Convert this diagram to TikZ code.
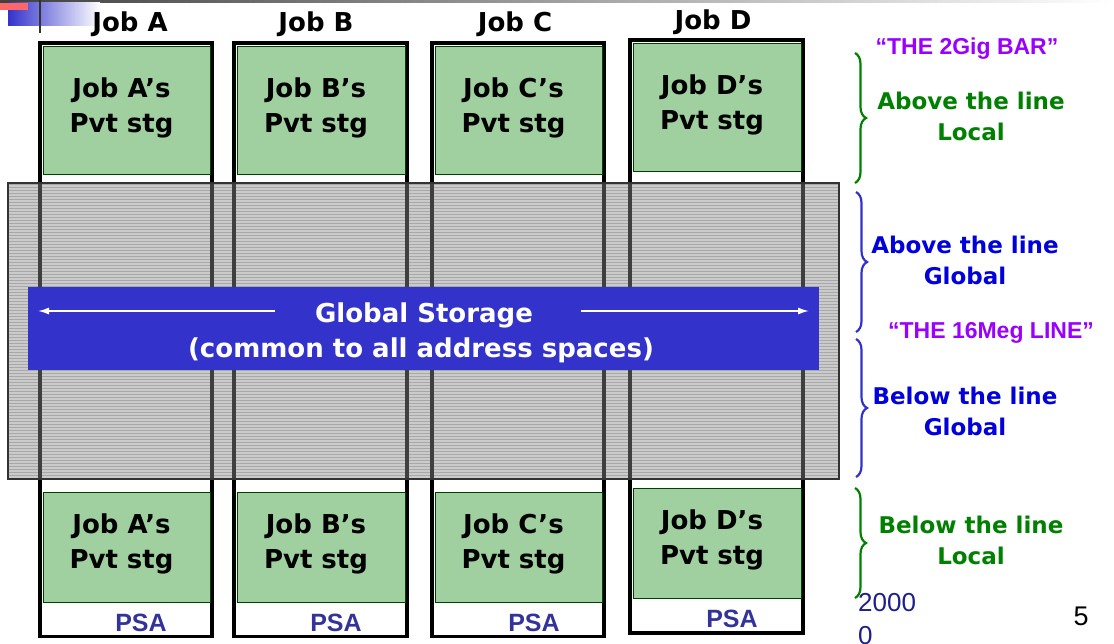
\documentclass[tikz,border=0pt]{standalone}
\usepackage{fontspec}
\setmainfont{DejaVu Sans}
\newfontfamily\arialfont{Liberation Sans}
\usetikzlibrary{positioning,patterns,decorations.pathreplacing,arrows.meta}
\definecolor{pvtgreen}{RGB}{160,208,160}
\definecolor{gsblue}{RGB}{51,51,204}
\definecolor{psablue}{RGB}{51,51,153}
\definecolor{barpurple}{RGB}{153,0,255}
\definecolor{localgreen}{RGB}{0,128,0}
\definecolor{globalblue}{RGB}{0,0,220}
\definecolor{yearblue}{RGB}{30,30,140}
\begin{document}
\begin{tikzpicture}[x=1pt,y=-1pt,
      job/.style={draw,line width=3.5pt},
      pvt/.style={draw=green!25!black,fill=pvtgreen,line width=1pt},
      pvttext/.style={font=\bfseries\fontsize{26}{35}\selectfont,align=center,
        inner sep=0pt,xshift=-5pt,yshift=3pt},
      jobhead/.style={font=\bfseries\fontsize{26}{30}\selectfont,inner sep=0pt,anchor=base},
      psa/.style={font=\arialfont\bfseries\fontsize{25}{28}\selectfont,text=psablue,
        inner sep=0pt,anchor=base},
      band/.style={draw=black!80,line width=1.2pt,fill=black!45,fill opacity=0.45},
      gsbar/.style={fill=gsblue,minimum width=791pt,minimum height=83pt,inner sep=0pt},
      gstext/.style={text=white,font=\bfseries\fontsize{26}{30}\selectfont,inner sep=0pt,anchor=base},
      gsarrow/.style={draw=white,line width=1.5pt,-{Latex[length=11pt,width=7pt]}},
      barlabel/.style={text=barpurple,font=\arialfont\bfseries\fontsize{23}{28}\selectfont,
        inner sep=0pt,anchor=base},
      sidelabel/.style={font=\bfseries\fontsize{23}{31}\selectfont,align=center,
        inner sep=0pt,anchor=north},
      sidebrace/.style={decorate,decoration={brace,amplitude=11pt},line width=2.2pt},
      ]
        \useasboundingbox (0,0) rectangle (1114,644);

        \shade [left color=black!75,right color=white] (0,0) rectangle (1114,3);
        \shade [left color=gsblue,middle color=gsblue,right color=white] (8,3) rectangle (100,26);
        \fill [red!60] (0,3) rectangle (28,10);
        \draw [black!80,line width=2pt] (40,0) -- (40,33);

        \path [pattern=horizontal lines,pattern color=black!25]
          (8,183) coordinate (G) rectangle (839,479);

        \path [job] (40,43) coordinate (A) rectangle (212,636.5);
        \path [pvt] (A) ++(3,4) rectangle ++(167,128)
          node [pvttext,pos=0.5] (pvtA) {Job A’s\\Pvt stg};
        \path [pvt] (A) ++(3,449) rectangle ++(167,110)
          node [pvttext,pos=0.5] (pvtAlow) {Job A’s\\Pvt stg};
        \node [psa] (psaA) at ([shift={(101,588)}]A) {PSA};
        \node [jobhead] (jobA) at ([shift={(90,-11)}]A) {Job A};

        \path [job] (234,43) coordinate (B) rectangle (407,636.5);
        \path [pvt] (B) ++(3,4) rectangle ++(168,128)
          node [pvttext,pos=0.5] (pvtB) {Job B’s\\Pvt stg};
        \path [pvt] (B) ++(3,449) rectangle ++(168,110)
          node [pvttext,pos=0.5] (pvtBlow) {Job B’s\\Pvt stg};
        \node [psa] (psaB) at ([shift={(102,588)}]B) {PSA};
        \node [jobhead] (jobB) at ([shift={(82,-11)}]B) {Job B};

        \path [job] (432,43) coordinate (C) rectangle (604,636.5);
        \path [pvt] (C) ++(3,4) rectangle ++(167,128)
          node [pvttext,pos=0.5] (pvtC) {Job C’s\\Pvt stg};
        \path [pvt] (C) ++(3,449) rectangle ++(167,110)
          node [pvttext,pos=0.5] (pvtClow) {Job C’s\\Pvt stg};
        \node [psa] (psaC) at ([shift={(102,588)}]C) {PSA};
        \node [jobhead] (jobC) at ([shift={(83,-11)}]C) {Job C};

        \path [job] (630,40) coordinate (D) rectangle (803,633);
        \path [pvt] (D) ++(3,4) rectangle ++(168,128)
          node [pvttext,pos=0.5] (pvtD) {Job D’s\\Pvt stg};
        \path [pvt] (D) ++(3,448) rectangle ++(168,110)
          node [pvttext,pos=0.5] (pvtDlow) {Job D’s\\Pvt stg};
        \node [psa] (psaD) at ([shift={(102,587)}]D) {PSA};
        \node [jobhead] (jobD) at ([shift={(83,-10)}]D) {Job D};

        \path [band] (G) rectangle (839,479);

        \node [gsbar] (gs) at (423.5,328.5) {};
        \node [gstext] (gstitle) at (424,323) {Global Storage};
        \node [gstext] (gscommon) at (421,357) {(common to all address spaces)};
        \coordinate (tailL) at (275,311);
        \coordinate (tipL) at (38,311);
        \coordinate (tailR) at (581,311);
        \coordinate (tipR) at (809,311);
        \draw [gsarrow] (tailL) -- (tipL);
        \draw [gsarrow] (tailR) -- (tipR);

        \node [barlabel] (bar2g) at (967,55) {“THE 2Gig BAR”};
        \node [barlabel] (line16m) at (991,339) {“THE 16Meg LINE”};
        \node [sidelabel,text=localgreen] (abovelocal) at (971,92) {Above the line\\Local};
        \node [sidelabel,text=globalblue] (aboveglobal) at (965,236) {Above the line\\Global};
        \node [sidelabel,text=globalblue] (belowglobal) at (965,387) {Below the line\\Global};
        \node [sidelabel,text=localgreen] (belowlocal) at (971,516) {Below the line\\Local};

        \draw [sidebrace,localgreen] (855,53) -- (855,183);
        \draw [sidebrace,gsblue] (856,192) -- (856,332);
        \draw [sidebrace,gsblue] (856,339) -- (856,477);
        \draw [sidebrace,localgreen] (855,488) -- (855,598);

        \node [font=\arialfont\fontsize{26}{33}\selectfont,text=yearblue,align=left,
          inner sep=0pt,anchor=north west] (year) at (858,593) {2000\\0};
        \node [font=\arialfont\fontsize{27}{30}\selectfont,inner sep=0pt,anchor=base]
          (pageno) at (1081,625) {5};
      \end{tikzpicture}
\end{document}
